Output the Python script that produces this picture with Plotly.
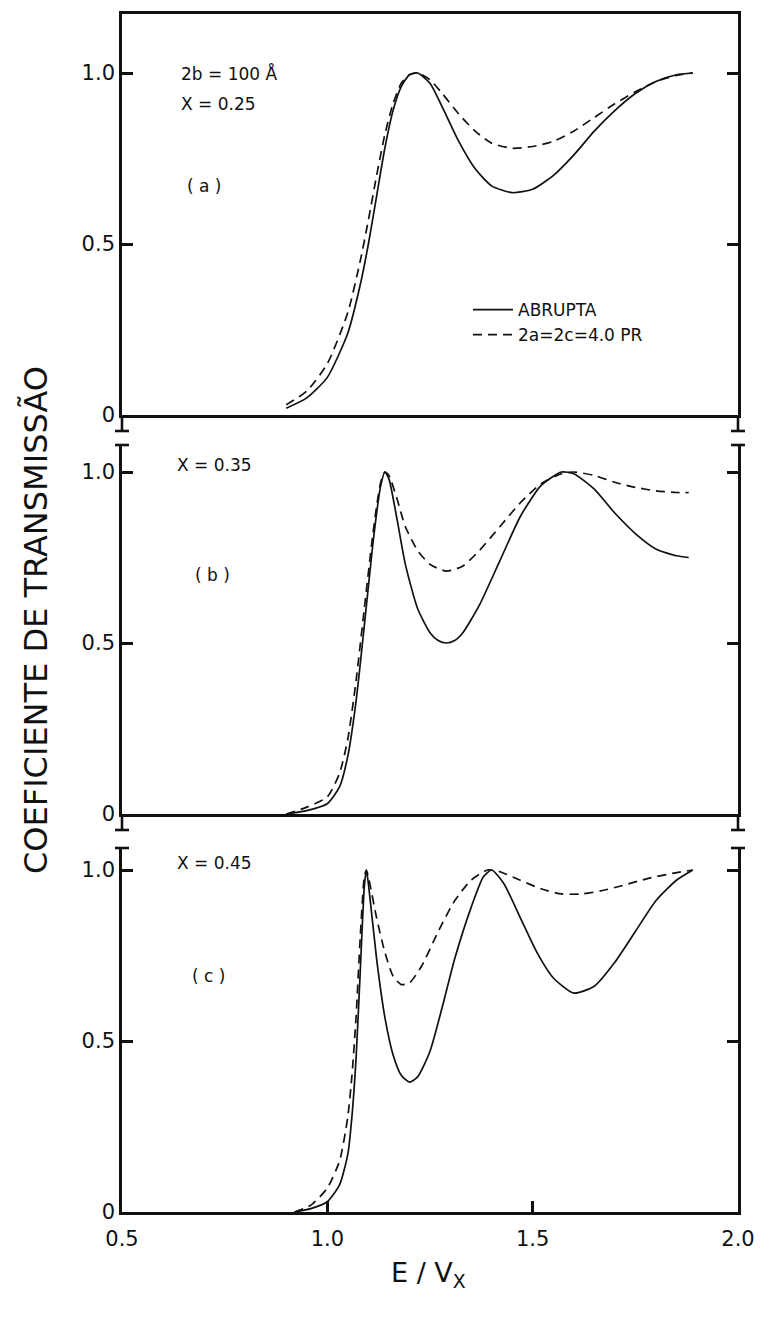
import plotly.graph_objects as go

# ---------------- data ----------------
# Panel (a)  X = 0.25
a_abr_x = [0.90, 0.95, 1.00, 1.05, 1.08, 1.10, 1.12, 1.14, 1.16, 1.18, 1.20, 1.22, 1.25, 1.28, 1.32,
           1.36, 1.40, 1.45, 1.50, 1.55, 1.60, 1.65, 1.70, 1.75, 1.80, 1.85, 1.89]
a_abr_y = [0.02, 0.05, 0.11, 0.24, 0.38, 0.50, 0.64, 0.78, 0.89, 0.96, 0.995, 1.00, 0.97, 0.90, 0.80,
           0.72, 0.67, 0.65, 0.66, 0.70, 0.76, 0.83, 0.89, 0.94, 0.975, 0.995, 1.00]
a_pr_x = [0.90, 0.95, 1.00, 1.05, 1.08, 1.10, 1.12, 1.14, 1.16, 1.18, 1.20, 1.22, 1.25, 1.28, 1.32,
          1.36, 1.40, 1.45, 1.50, 1.55, 1.60, 1.65, 1.70, 1.75, 1.80, 1.85, 1.89]
a_pr_y = [0.03, 0.07, 0.15, 0.30, 0.45, 0.57, 0.70, 0.82, 0.91, 0.97, 0.995, 1.00, 0.98, 0.94, 0.88,
          0.83, 0.795, 0.78, 0.785, 0.80, 0.83, 0.87, 0.91, 0.945, 0.975, 0.993, 1.00]

# Panel (b)  X = 0.35
b_abr_x = [0.90, 0.95, 1.00, 1.03, 1.05, 1.07, 1.09, 1.11, 1.12, 1.13, 1.14, 1.15, 1.17, 1.19, 1.22,
           1.25, 1.27, 1.29, 1.31, 1.33, 1.37, 1.42, 1.47, 1.52, 1.57, 1.60, 1.65, 1.70, 1.75, 1.80,
           1.85, 1.88]
b_abr_y = [0.00, 0.01, 0.03, 0.08, 0.17, 0.33, 0.55, 0.78, 0.88, 0.96, 1.00, 0.98, 0.86, 0.73, 0.60,
           0.53, 0.507, 0.50, 0.507, 0.53, 0.61, 0.74, 0.87, 0.96, 1.00, 0.995, 0.95, 0.88, 0.82, 0.775,
           0.755, 0.75]
b_pr_x = [0.90, 0.95, 1.00, 1.03, 1.05, 1.07, 1.09, 1.11, 1.12, 1.13, 1.14, 1.15, 1.17, 1.19, 1.22,
          1.25, 1.29, 1.33, 1.37, 1.42, 1.47, 1.52, 1.57, 1.60, 1.65, 1.70, 1.75, 1.80, 1.85, 1.88]
b_pr_y = [0.00, 0.02, 0.05, 0.12, 0.22, 0.39, 0.60, 0.81, 0.90, 0.97, 1.00, 0.99, 0.92, 0.84, 0.77,
          0.73, 0.71, 0.725, 0.77, 0.84, 0.91, 0.965, 0.995, 1.00, 0.99, 0.97, 0.955, 0.945, 0.94, 0.94]

# Panel (c)  X = 0.45
c_abr_x = [0.92, 0.96, 1.00, 1.03, 1.05, 1.06, 1.07, 1.08, 1.09, 1.095, 1.10, 1.12, 1.14, 1.16, 1.18,
           1.20, 1.22, 1.25, 1.28, 1.31, 1.35, 1.38, 1.40, 1.43, 1.47, 1.51, 1.55, 1.60, 1.65, 1.70,
           1.75, 1.80, 1.85, 1.89]
c_abr_y = [0.00, 0.01, 0.03, 0.08, 0.17, 0.28, 0.45, 0.70, 0.95, 1.00, 0.96, 0.74, 0.57, 0.46, 0.40,
           0.38, 0.395, 0.47, 0.60, 0.74, 0.89, 0.98, 1.00, 0.96, 0.86, 0.76, 0.685, 0.64, 0.66, 0.73,
           0.82, 0.91, 0.97, 1.00]
c_pr_x = [0.92, 0.96, 1.00, 1.03, 1.05, 1.06, 1.07, 1.08, 1.09, 1.095, 1.10, 1.12, 1.14, 1.16, 1.18,
          1.20, 1.23, 1.27, 1.31, 1.35, 1.39, 1.42, 1.47, 1.52, 1.57, 1.62, 1.67, 1.72, 1.78, 1.84, 1.89]
c_pr_y = [0.00, 0.02, 0.07, 0.15, 0.28, 0.40, 0.57, 0.80, 0.98, 1.00, 0.98, 0.86, 0.76, 0.69, 0.665,
          0.67, 0.72, 0.82, 0.91, 0.97, 1.00, 0.995, 0.97, 0.945, 0.93, 0.93, 0.94, 0.955, 0.975, 0.99, 1.00]

x_ticks = [0.5, 1.0, 1.5, 2.0]
x_ticklabels = ["0.5", "1.0", "1.5", "2.0"]
y_ticks = [0, 0.5, 1.0]
y_ticklabels = ["0", "0.5", "1.0"]
legend_names = ["ABRUPTA", "2a=2c=4.0 PR"]

# ---------------- layout geometry (pixels) ----------------
W, H = 769, 1318
L, R = 122, 738          # plot left / right
TOP, BOT = 14, 1212      # overall plot top / bottom
PH = BOT - TOP


def yp(px):
    return (BOT - px) / PH


def xp(px):
    return (px - L) / (R - L)


# panel pixel extents
a_top, a_bot = 14, 415
b_top, b_bot = 445, 814
c_top, c_bot = 848, 1212
per_unit = 342.0

FONT = "DejaVu Sans"
BLACK = "#111111"
AXW = 2.6

fig = go.Figure()

panels = [
    ("x3", "y3", a_abr_x, a_abr_y, a_pr_x, a_pr_y, True),
    ("x2", "y2", b_abr_x, b_abr_y, b_pr_x, b_pr_y, False),
    ("x", "y", c_abr_x, c_abr_y, c_pr_x, c_pr_y, False),
]
for xa, ya, ax_, ay_, px_, py_, show in panels:
    fig.add_trace(go.Scatter(x=ax_, y=ay_, xaxis=xa, yaxis=ya, mode="lines",
                             line=dict(color=BLACK, width=1.7, shape="spline", smoothing=0.6),
                             name=legend_names[0], showlegend=show, hoverinfo="skip"))
    fig.add_trace(go.Scatter(x=px_, y=py_, xaxis=xa, yaxis=ya, mode="lines",
                             line=dict(color=BLACK, width=1.7, dash="9px,6px", shape="spline", smoothing=0.6),
                             name=legend_names[1], showlegend=show, hoverinfo="skip"))

tickfont = dict(family=FONT, size=21, color=BLACK)


def yaxis_cfg(top_px, bot_px):
    return dict(domain=[yp(bot_px), yp(top_px)],
                range=[0, (bot_px - top_px) / per_unit],
                tickvals=y_ticks, ticktext=y_ticklabels, tickfont=tickfont,
                ticks="inside", ticklen=11, tickwidth=AXW, tickcolor=BLACK,
                showline=True, linewidth=AXW, linecolor=BLACK, mirror="ticks",
                showgrid=False, zeroline=False, fixedrange=True)


common_x = dict(range=[0.5, 2.0], showgrid=False, zeroline=False,
                showline=True, linewidth=AXW, linecolor=BLACK, fixedrange=True)

fig.update_layout(
    width=W, height=H,
    margin=dict(l=L, r=W - R, t=TOP, b=H - BOT),
    paper_bgcolor="white", plot_bgcolor="white",
    showlegend=True,
    legend=dict(x=xp(468), y=yp(292), xanchor="left", yanchor="top",
                bgcolor="rgba(0,0,0,0)", font=dict(family=FONT, size=17, color=BLACK),
                itemwidth=40, tracegroupgap=0),
    xaxis=dict(anchor="y", tickvals=x_ticks, ticktext=x_ticklabels, tickfont=tickfont,
               ticks="inside", ticklen=11, tickwidth=AXW, tickcolor=BLACK,
               ticklabelstandoff=6, **common_x),
    xaxis2=dict(anchor="y2", matches="x", showticklabels=False, ticks="", **common_x),
    xaxis3=dict(anchor="y3", matches="x", showticklabels=False, ticks="", mirror=True, **common_x),
    yaxis=yaxis_cfg(c_top, c_bot),
    yaxis2=yaxis_cfg(b_top, b_bot),
    yaxis3=yaxis_cfg(a_top, a_bot),
)

# axis break marks between panels (left and right axes)
shapes = []
bar = 7 / (R - L)
for upper_bot, lower_top in [(a_bot, b_top), (b_bot, c_top)]:
    mark1 = upper_bot + 16
    for xx in (0.0, 1.0):
        shapes.append(dict(type="line", xref="paper", yref="paper", x0=xx, x1=xx,
                           y0=yp(upper_bot), y1=yp(mark1), line=dict(color=BLACK, width=AXW)))
        shapes.append(dict(type="line", xref="paper", yref="paper", x0=xx - bar, x1=xx + bar,
                           y0=yp(mark1), y1=yp(mark1), line=dict(color=BLACK, width=AXW)))
        shapes.append(dict(type="line", xref="paper", yref="paper", x0=xx - bar, x1=xx + bar,
                           y0=yp(lower_top), y1=yp(lower_top), line=dict(color=BLACK, width=AXW)))
fig.update_layout(shapes=shapes)

txt = dict(family=FONT, size=17, color=BLACK)
ann = [
    dict(text="2b = 100 Å", x=0.64, y=1.0, xref="x3", yref="y3", xanchor="left", yanchor="middle"),
    dict(text="X = 0.25", x=0.64, y=0.91, xref="x3", yref="y3", xanchor="left", yanchor="middle"),
    dict(text="( a )", x=0.70, y=0.67, xref="x3", yref="y3", xanchor="center", yanchor="middle"),
    dict(text="X = 0.35", x=0.63, y=1.02, xref="x2", yref="y2", xanchor="left", yanchor="middle"),
    dict(text="( b )", x=0.72, y=0.70, xref="x2", yref="y2", xanchor="center", yanchor="middle"),
    dict(text="X = 0.45", x=0.63, y=1.02, xref="x", yref="y", xanchor="left", yanchor="middle"),
    dict(text="( c )", x=0.71, y=0.69, xref="x", yref="y", xanchor="center", yanchor="middle"),
]
annotations = []
for a in ann:
    a.update(showarrow=False, font=txt)
    annotations.append(a)

annotations.append(dict(text="COEFICIENTE DE TRANSMISSÃO", textangle=-90, showarrow=False,
                        xref="paper", yref="paper", x=xp(36), y=yp(620),
                        xanchor="center", yanchor="middle",
                        font=dict(family=FONT, size=32, color=BLACK)))
annotations.append(dict(text="E / V<sub>X</sub>", showarrow=False,
                        xref="paper", yref="paper", x=xp(428), y=yp(1274),
                        xanchor="center", yanchor="middle",
                        font=dict(family=FONT, size=27, color=BLACK)))
fig.update_layout(annotations=annotations)

fig.write_html("out.html")
